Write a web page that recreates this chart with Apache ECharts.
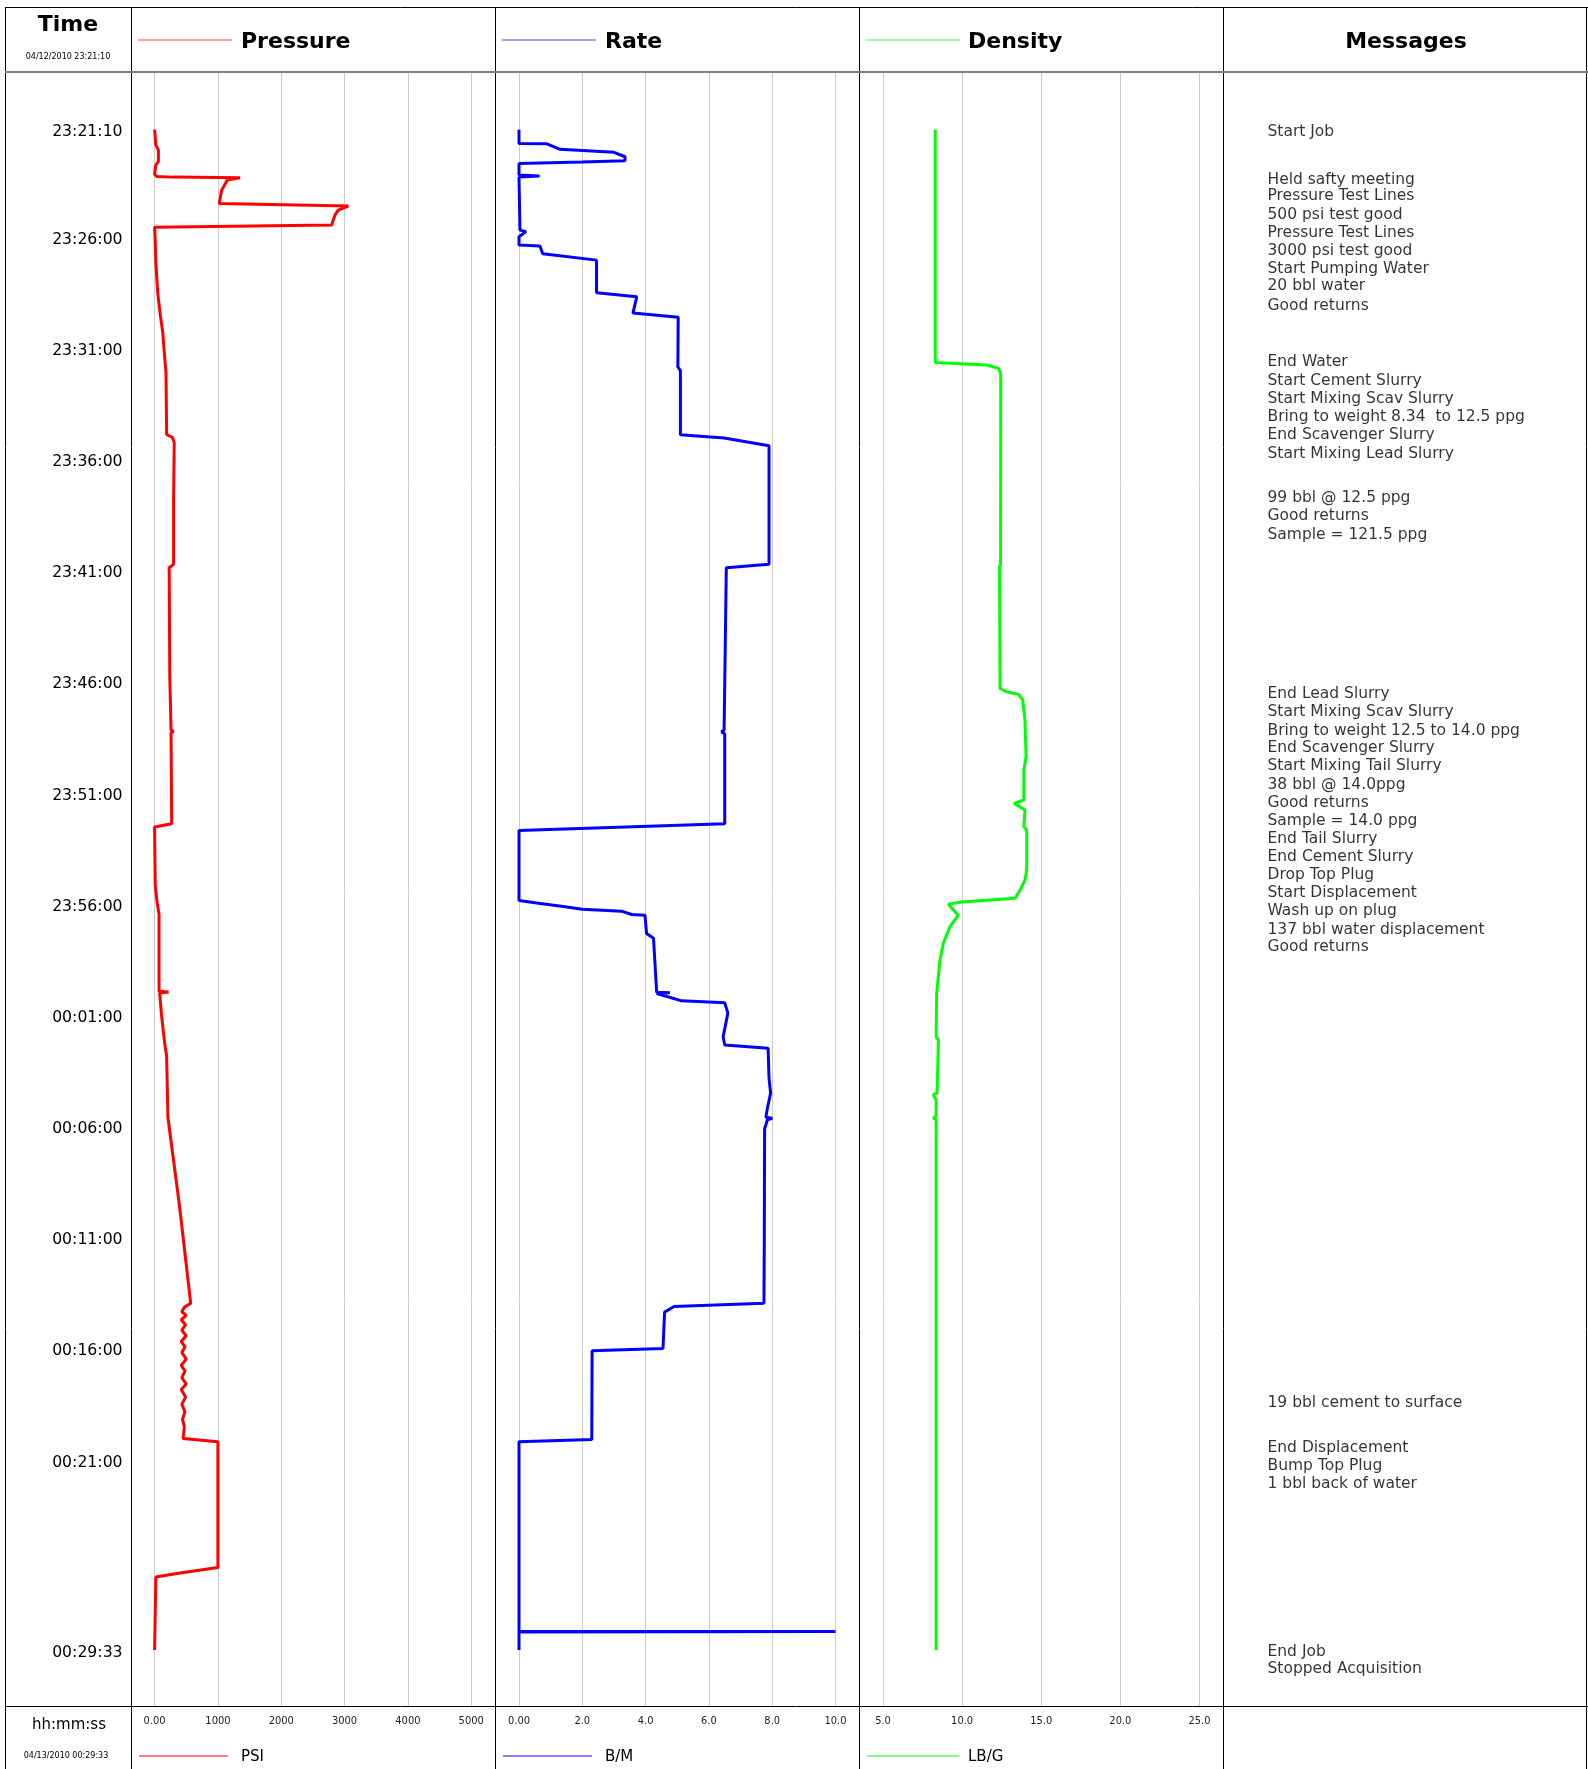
<!DOCTYPE html>
<html>
<head>
<meta charset="utf-8">
<script src="https://cdn.jsdelivr.net/npm/echarts@6/dist/echarts.min.js"></script>
<style>
  html, body { margin: 0; padding: 0; background: #fff; }
  #chart { width: 1588px; height: 1769px; }
</style>
</head>
<body>
<div id="chart"></div>
<script>
// job start 04/12/2010 23:21:10, times below are seconds since start
var startClock = 23 * 3600 + 21 * 60 + 10;
var timeTicks = ['23:21:10', '23:26:00', '23:31:00', '23:36:00', '23:41:00', '23:46:00', '23:51:00',
  '23:56:00', '00:01:00', '00:06:00', '00:11:00', '00:16:00', '00:21:00', '00:29:33'];

var pressureTicks = [0, 1000, 2000, 3000, 4000, 5000];
var rateTicks = [0, 2, 4, 6, 8, 10];
var densityTicks = [5, 10, 15, 20, 25];

// [seconds, psi]
var pressure = [
  [0, 0], [41, 20], [55, 60], [86, 60], [95, 20], [120, 0], [126, 30], [128, 300], [130, 1350],
  [136, 1150], [163, 1060], [199, 1020], [203, 1040], [206, 3060], [217, 2900], [230, 2850],
  [249, 2810], [257, 2800], [263, 0], [300, 10], [360, 20], [362, 40], [441, 50], [445, 80],
  [500, 90], [505, 120], [549, 130], [595, 150], [655, 180], [823, 190], [830, 280], [844, 310],
  [1000, 300], [1173, 300], [1182, 230], [1478, 240], [1620, 260], [1624, 300], [1627, 260],
  [1873, 270], [1882, 0], [2040, 10], [2086, 40], [2117, 70], [2325, 70], [2327, 220], [2330, 80],
  [2391, 110], [2467, 160], [2500, 190], [2665, 210], [2900, 390], [3167, 570], [3178, 470],
  [3190, 430], [3200, 500], [3212, 420], [3225, 490], [3240, 430], [3255, 500], [3270, 420],
  [3285, 480], [3300, 430], [3318, 500], [3335, 420], [3350, 480], [3368, 430], [3385, 500],
  [3400, 420], [3420, 490], [3440, 430], [3460, 480], [3480, 440], [3500, 470], [3532, 450],
  [3541, 1000], [3880, 1000], [3895, 400], [3906, 20], [4103, 0]
];

// [seconds, bbl/min]
var rate = [
  [0, 0], [37, 0], [38, 0.88], [53, 1.3], [61, 3.0], [73, 3.35], [84, 3.35], [87, 2.0], [91, 0],
  [122, 0], [125, 0.65], [128, 0], [271, 0.03], [275, 0.22], [289, 0], [311, 0], [314, 0.66],
  [335, 0.75], [352, 2.45], [440, 2.45], [451, 3.72], [495, 3.6], [506, 5.03], [640, 5.02],
  [650, 5.1], [823, 5.1], [832, 6.48], [853, 7.9], [1173, 7.9], [1182, 6.55], [1500, 6.5],
  [1620, 6.48], [1625, 6.4], [1630, 6.5], [1873, 6.5], [1891, 0], [2080, 0], [2086, 0.5],
  [2097, 1.45], [2104, 2.0], [2109, 3.24], [2118, 3.56], [2120, 3.98], [2169, 4.03],
  [2182, 4.25], [2328, 4.35], [2329, 4.77], [2331, 4.35], [2351, 5.14], [2356, 6.5], [2384, 6.6],
  [2448, 6.45], [2470, 6.5], [2479, 7.87], [2560, 7.9], [2600, 7.95], [2640, 7.85], [2665, 7.8],
  [2668, 8.0], [2672, 7.85], [2696, 7.76], [3000, 7.75], [3167, 7.74], [3176, 4.9], [3191, 4.6],
  [3289, 4.55], [3295, 2.31], [3535, 2.3], [3541, 0], [4052, 0], [4053, 10.0], [4054, 0], [4103, 0]
];

// [seconds, lb/gal]
var density = [
  [0, 8.3], [628, 8.3], [635, 11.55], [644, 12.29], [658, 12.44], [1173, 12.43], [1180, 12.36],
  [1508, 12.4], [1517, 12.82], [1524, 13.56], [1539, 13.83], [1593, 13.97], [1692, 14.04],
  [1728, 13.9], [1809, 13.9], [1818, 13.28], [1836, 13.97], [1881, 13.9], [1890, 14.08],
  [1998, 14.08], [2025, 13.97], [2052, 13.66], [2074, 13.35], [2084, 9.97], [2090, 9.13],
  [2120, 9.76], [2151, 9.23], [2196, 8.81], [2241, 8.6], [2331, 8.39], [2448, 8.36], [2457, 8.5],
  [2600, 8.42], [2604, 8.18], [2619, 8.36], [2663, 8.36], [2667, 8.18], [2672, 8.36],
  [3000, 8.36], [4103, 8.36]
];

var msgTimes = [0, 130, 173, 224, 272, 321, 370, 417, 469, 622, 672, 721, 771, 819, 869, 989,
  1038, 1088, 1517, 1566, 1616, 1663, 1712, 1763, 1811, 1860, 1908, 1956, 2005, 2054, 2103,
  2153, 2201, 3431, 3553, 3602, 3649, 4103, 4150];
var msgText = ['Start Job', 'Held safty meeting', 'Pressure Test Lines', '500 psi test good',
  'Pressure Test Lines', '3000 psi test good', 'Start Pumping Water', '20 bbl water', 'Good returns',
  'End Water', 'Start Cement Slurry', 'Start Mixing Scav Slurry', 'Bring to weight 8.34  to 12.5 ppg',
  'End Scavenger Slurry', 'Start Mixing Lead Slurry', '99 bbl @ 12.5 ppg', 'Good returns',
  'Sample = 121.5 ppg', 'End Lead Slurry', 'Start Mixing Scav Slurry', 'Bring to weight 12.5 to 14.0 ppg',
  'End Scavenger Slurry', 'Start Mixing Tail Slurry', '38 bbl @ 14.0ppg', 'Good returns',
  'Sample = 14.0 ppg', 'End Tail Slurry', 'End Cement Slurry', 'Drop Top Plug', 'Start Displacement',
  'Wash up on plug', '137 bbl water displacement', 'Good returns', '19 bbl cement to surface',
  'End Displacement', 'Bump Top Plug', '1 bbl back of water', 'End Job', 'Stopped Acquisition'];

function toSec(str) {
  var p = str.split(':').map(Number);
  var s = p[0] * 3600 + p[1] * 60 + p[2] - startClock;
  return s < 0 ? s + 86400 : s;
}
function toClock(sec) {
  var s = (startClock + Math.round(sec)) % 86400;
  var pad = function (n) { return (n < 10 ? '0' : '') + n; };
  return pad(Math.floor(s / 3600)) + ':' + pad(Math.floor(s / 60) % 60) + ':' + pad(s % 60);
}

var FONT = 'DejaVu Sans, Verdana, sans-serif';
var SMALL = 'Liberation Sans Narrow, DejaVu Sans Condensed, sans-serif';
var plotTop = 73, plotH = 1633;
var tMin = -153, tMax = 4254;

function yAx(idx, showLabels) {
  return {
    gridIndex: idx, type: 'value', inverse: true, min: tMin, max: tMax,
    axisLine: { show: false }, axisTick: { show: false }, splitLine: { show: false },
    axisLabel: showLabels ? {
      customValues: timeTicks.map(toSec), margin: 32,
      formatter: function (v) { return '{t|' + toClock(v) + '}'; },
      rich: { t: { fontSize: 15.7, color: '#000', fontFamily: FONT, padding: [5, 0, 0, 0] } }
    } : { show: false }
  };
}
function xAx(idx, ticks, fmt) {
  return {
    gridIndex: idx, type: 'value', position: 'bottom',
    min: ticks[0], max: ticks[ticks.length - 1], interval: ticks[1] - ticks[0],
    axisLine: { show: false }, axisTick: { show: false },
    splitLine: { show: true, lineStyle: { color: '#cccccc', width: 1 } },
    axisLabel: { formatter: fmt, fontSize: 11, color: '#222', fontFamily: SMALL, margin: 10 }
  };
}
function trace(idx, data, color) {
  return {
    type: 'line', xAxisIndex: idx, yAxisIndex: idx, showSymbol: false, silent: true,
    data: data.map(function (d) { return [d[1], d[0]]; }),
    lineStyle: { color: color, width: 3 }, itemStyle: { color: color }
  };
}

function vline(x, y1, y2, color, w) {
  return { type: 'line', shape: { x1: x, y1: y1, x2: x, y2: y2 }, style: { stroke: color || '#000', lineWidth: w || 1 }, z: 100 };
}
function hline(x1, x2, y, color, w) {
  return { type: 'line', shape: { x1: x1, y1: y, x2: x2, y2: y }, style: { stroke: color || '#000', lineWidth: w || 1 }, z: 100 };
}
function txt(x, y, s, size, bold, align) {
  return {
    type: 'text', x: x, y: y, z: 100,
    style: { text: s, fontSize: size, fontWeight: bold ? 'bold' : 'normal', fontFamily: FONT, fill: '#000',
      align: align || 'left', verticalAlign: 'middle' }
  };
}

var graphics = [
  hline(5, 1588, 7.5), vline(5.5, 7, 1769), vline(1586.5, 7, 1769),
  vline(131.5, 7, 1769), vline(495.5, 7, 1769), vline(859.5, 7, 1769), vline(1223.5, 7, 1769),
  hline(5, 1588, 72, '#808080', 2), hline(5, 1588, 1706.5, '#000', 1),
  txt(68, 25, 'Time', 22, true, 'center'), txt(68, 56.5, '04/12/2010 23:21:10', 8, false, 'center'),
  hline(138, 232, 40, '#ff8080', 1.5), txt(241, 42, 'Pressure', 22, true),
  hline(502, 596, 40, '#8080ff', 1.5), txt(605, 42, 'Rate', 22, true),
  hline(866, 960, 40, '#80ff80', 1.5), txt(968, 42, 'Density', 22, true),
  txt(1406, 42, 'Messages', 22, true, 'center'),
  txt(69, 1725, 'hh:mm:ss', 15, false, 'center'), txt(66, 1756, '04/13/2010 00:29:33', 8, false, 'center'),
  hline(139, 228, 1756, '#ff0000', 1), txt(241, 1757, 'PSI', 15, false),
  hline(503, 592, 1756, '#0000ff', 1), txt(605, 1757, 'B/M', 15, false),
  hline(867, 959, 1756, '#00ff00', 1), txt(968, 1757, 'LB/G', 15, false)
];

var chart = echarts.init(document.getElementById('chart'));
chart.setOption({
  animation: false,
  backgroundColor: '#fff',
  grid: [
    { left: 154.6, width: 316.6, top: plotTop, height: plotH },
    { left: 519, width: 316.5, top: plotTop, height: plotH },
    { left: 883, width: 316.5, top: plotTop, height: plotH },
    { left: 1267, width: 300, top: plotTop, height: plotH }
  ],
  xAxis: [
    xAx(0, pressureTicks, function (v) { return v === 0 ? '0.00' : String(v); }),
    xAx(1, rateTicks, function (v) { return v === 0 ? '0.00' : v.toFixed(1); }),
    xAx(2, densityTicks, function (v) { return v.toFixed(1); }),
    { gridIndex: 3, type: 'value', min: 0, max: 1, show: false }
  ],
  yAxis: [yAx(0, true), yAx(1, false), yAx(2, false), yAx(3, false)],
  series: [
    trace(0, pressure, '#ff0000'),
    trace(1, rate, '#0000ff'),
    trace(2, density, '#00ff00'),
    {
      type: 'scatter', xAxisIndex: 3, yAxisIndex: 3, symbolSize: 1, silent: true,
      itemStyle: { color: 'rgba(0,0,0,0)' },
      data: msgTimes.map(function (t, i) { return { value: [0, t], name: msgText[i] }; }),
      label: { show: true, position: 'right', distance: 0, formatter: '{b}', color: '#000',
        fontSize: 15.5, fontFamily: FONT, offset: [0, 2] }
    }
  ],
  graphic: graphics
});
</script>
</body>
</html>
